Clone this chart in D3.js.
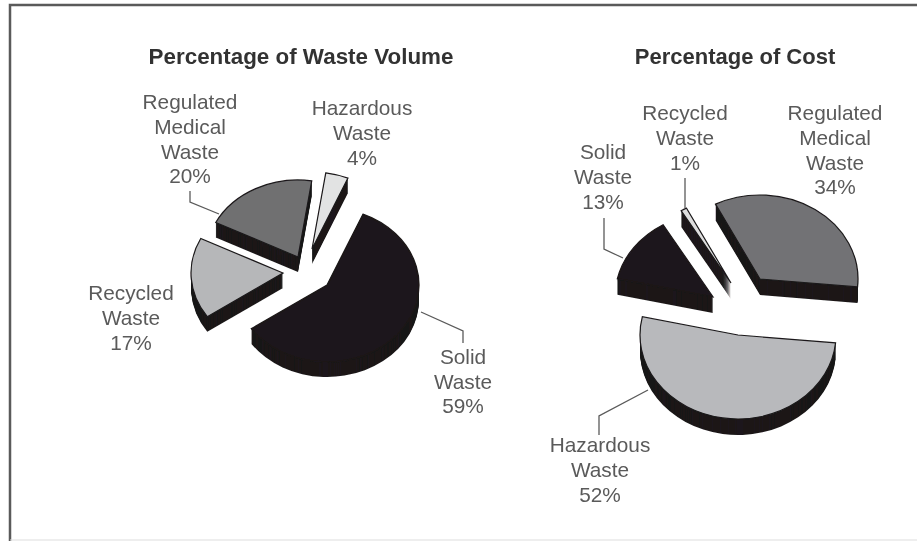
<!DOCTYPE html>
<html><head><meta charset="utf-8">
<script src="https://cdnjs.cloudflare.com/ajax/libs/d3/7.8.5/d3.min.js"></script>
<style>html,body{margin:0;padding:0;background:#fff}svg{display:block}
text{font-family:"Liberation Sans",Arial,sans-serif;text-anchor:middle}</style>
</head><body><svg id="c" width="917" height="541"></svg>
<script>
// ---- data ----
const volumeCategories = ["Solid Waste","Recycled Waste","Regulated Medical Waste","Hazardous Waste"];
const volumeValues = [59,17,20,4];
const costCategories = ["Regulated Medical Waste","Hazardous Waste","Solid Waste","Recycled Waste"];
const costValues = [34,52,13,1];
const titles = ["Percentage of Waste Volume","Percentage of Cost"];

// ---- layout and style ----
const deg = Math.PI/180, sideColor = "#1b191a";
const fills = {
  volume:["#1b191a","#b6b7b9","#6f6f71","#e2e3e3"],
  cost:["#727274","#b8b9bc","#1b191a","#dedede"]
};
const charts = [
 {key:"volume",cats:volumeCategories,vals:volumeValues,start:23,rx:92,ry:77,depth:15,
  apex:[[327,285],[283,273],[298,257],[312,249]],
  labels:[[463,[357,382,406]],[131,[293,318,343]],[190,[102,127,152,176]],[362,[108,133,158]]],
  title:[301,64],titleSize:22.4,
  leaders:[[[421,312],[463,331],[463,343]],null,[[190,191],[190,202],[219,214]],null]},
 {key:"cost",cats:costCategories,vals:costValues,start:-27,rx:98,ry:84,depth:16,
  apex:[[760,279],[738,335],[713,297],[731,283]],
  labels:[[835,[113,138,163,187]],[600,[445,470,495]],[603,[152,177,202]],[685,[113,138,163]]],
  title:[735,64],titleSize:22,
  leaders:[null,[[648,390],[599,416],[599,435]],[[604,218],[604,249],[623,258]],[[685,178],[685,208]]]}
];

const svg = d3.select("#c");
const defs = svg.append("defs");
defs.append("filter").attr("id","soft").attr("x","-5%").attr("y","-5%").attr("width","110%").attr("height","110%")
  .append("feGaussianBlur").attr("stdDeviation",0.55);
const root = svg.append("g").attr("filter","url(#soft)");

// frame
root.append("path").attr("d","M917,5H10V541").attr("fill","none").attr("stroke","#5a5a5a").attr("stroke-width",2.5);
root.append("path").attr("d","M10,540H917").attr("fill","none").attr("stroke","#ddd");

charts.forEach(ch=>{
  const g = root.append("g");
  const pie = d3.pie().sort(null).startAngle(ch.start*deg).endAngle((ch.start+360)*deg);
  const arcs = pie(ch.vals);
  const arc = d3.arc().innerRadius(0).outerRadius(ch.rx);
  const sy = ch.ry/ch.rx;
  arcs.forEach((a,i)=>{
    const [x,y] = ch.apex[i];
    const s = g.append("g");
    d3.range(ch.depth,0,-1).forEach(d=>{
      s.append("path").attr("d",arc(a))
       .attr("transform",`translate(${x},${y+d}) scale(1,${sy})`).attr("fill",sideColor);
    });
    s.append("path").attr("d",arc(a))
     .attr("transform",`translate(${x},${y}) scale(1,${sy})`)
     .attr("fill",fills[ch.key][i]).attr("stroke",sideColor).attr("stroke-width",1.2)
     .attr("vector-effect","non-scaling-stroke").attr("stroke-linejoin","miter");
    if(ch.leaders[i]) g.append("path").attr("d",d3.line()(ch.leaders[i]))
      .attr("fill","none").attr("stroke","#5a5a5a").attr("stroke-width",1.3);
    const [lx,lys] = ch.labels[i];
    const words = ch.cats[i].split(" ");
    const lines = [...words,ch.vals[i]+"%"];
    lines.forEach((t,k)=>{
      g.append("text").attr("x",lx).attr("y",lys[k]).attr("dy","0.35em")
       .attr("font-size",20.8).attr("fill","#5a5a5a").text(t);
    });
  });
});
charts.forEach((ch,i)=>{
  root.append("text").attr("x",ch.title[0]).attr("y",ch.title[1]).attr("font-size",ch.titleSize)
   .attr("font-weight","bold").attr("fill","#333").text(titles[i]);
});
</script></body></html>
